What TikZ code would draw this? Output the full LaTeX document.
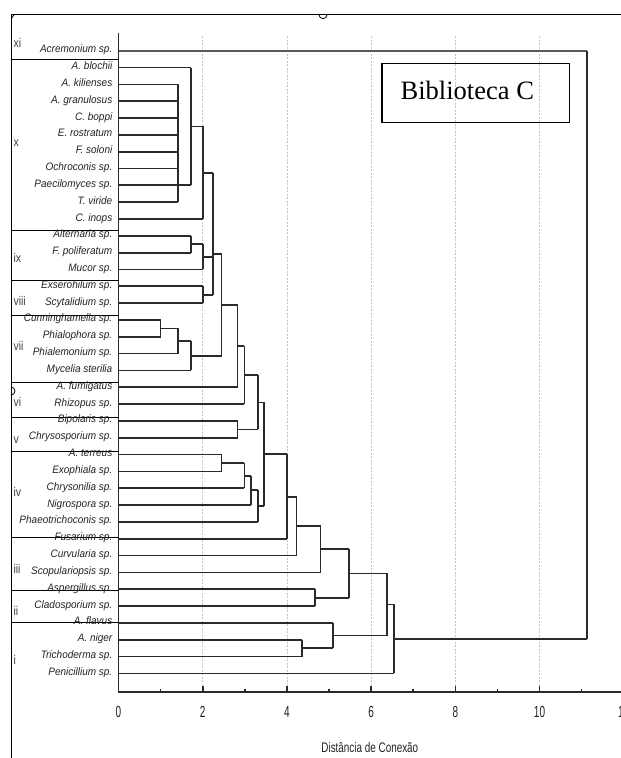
\documentclass[tikz,border=0pt]{standalone}
\usepackage{fontspec}
\setmainfont{Liberation Serif}
\setsansfont{Liberation Sans}
\definecolor{treeline}{HTML}{2A2A2A}
\definecolor{gridgray}{HTML}{C4C4C4}
\definecolor{labelink}{HTML}{222222}
\tikzset{
  tree/.style={draw=treeline, line width=1.7pt},
  topleaf/.style={draw=black!65, line width=2.2pt},
  sepline/.style={black, line width=1pt},
  gridline/.style={gridgray, dashed, dash pattern=on 2pt off 1.5pt, line width=.8pt},
  axisline/.style={treeline, line width=1.6pt},
  leafname/.style={font=\sffamily\itshape\fontsize{10}{12}\selectfont, text=labelink,
    anchor=base east, inner sep=0pt, xshift=-6pt, yshift=-2pt, yscale=1.08, transform shape},
  grouplbl/.style={font=\sffamily\fontsize{10.5}{12}\selectfont, text=black!75,
    anchor=west, inner sep=0pt, yscale=1.2, transform shape},
  ticklbl/.style={font=\sffamily\fontsize{10}{12}\selectfont, text=labelink,
    anchor=base, inner sep=0pt, yscale=1.6, transform shape},
  axistitle/.style={font=\sffamily\fontsize{9.9}{12}\selectfont, text=labelink,
    anchor=base, inner sep=0pt, yscale=1.4, transform shape},
}
\begin{document}
\begin{tikzpicture}[x=1pt,y=-1pt]
  \useasboundingbox (0,0) rectangle (621,758);
  % frame and handles
  \draw[line width=1pt] (11,758) -- (11,14.7) -- (621,14.7);
  \draw[line width=.8pt] (319,14.7) arc (180:0:4);
  \draw[line width=.8pt] (11,387) arc (-90:90:4);
  \draw[line width=.8pt] (11,19) -- (14,14.7);

  % grid, axis, ticks
  \begin{scope}[shift={(118.5,0)}, x=42.1pt]
    \foreach \t in {2,4,...,12}
      \draw[gridline] (\t,36) -- (\t,691.7);
    \draw[axisline] (0,33) -- (0,691.7) -- (12.2,691.7);
    \foreach \t in {1,3,...,11}
      \draw[axisline] (\t,691.7) -- (\t,688.8);
    \foreach \t in {2,4,...,12}
      \draw[axisline] (\t,691.7) -- (\t,685.8);
    \foreach \t in {0,2,...,12}
      \node[ticklbl] (tick\t) at (\t,717) {\t};
    \node[axistitle] (xtitle) at (5.97,752) {Distância de Conexão};
  \end{scope}

  % group column
  \foreach \y in {59.3,230,280.7,315.3,382.3,417.3,451.7,537.3,590,622.7}
    \draw[sepline] (11,\y) -- (118.5,\y);
  \node[grouplbl] (gxi)   at (13.3,42.7)  {xi};
  \node[grouplbl] (gx)    at (13.3,143)   {x};
  \node[grouplbl] (gix)   at (13.3,258)   {ix};
  \node[grouplbl] (gviii) at (13.3,300.7) {viii};
  \node[grouplbl] (gvii)  at (13.3,346)   {vii};
  \node[grouplbl] (gvi)   at (13.3,401.7) {vi};
  \node[grouplbl] (gv)    at (13.3,440)   {v};
  \node[grouplbl] (giv)   at (13.3,491.7) {iv};
  \node[grouplbl] (giii)  at (13.3,569)   {iii};
  \node[grouplbl] (gii)   at (13.3,611)   {ii};
  \node[grouplbl] (gi)    at (13.3,660)   {i};

  % dendrogram
  \begin{scope}[shift={(118.5,50.7)}, x=42.1pt, y=-16.83pt]
    \draw[topleaf] (0,0) -- (11.12,0);
    \node[leafname] (leaf0) at (0,0) {Acremonium sp.};
    \foreach \name/\d [count=\i] in {A. blochii/1.72, A. kilienses/1.41,
        A. granulosus/1.41, C. boppi/1.41, E. rostratum/1.41, F. soloni/1.41,
        Ochroconis sp./1.41, Paecilomyces sp./1.72, T. viride/1.41,
        C. inops/2.00, Alternaria sp./1.72, F. poliferatum/1.72, Mucor sp./2.00,
        Exserohilum sp./2.00, Scytalidium sp./2.00, Cunninghamella sp./1.00,
        Phialophora sp./1.00, Phialemonium sp./1.41, Mycelia sterilia/1.72,
        A. fumigatus/2.83, Rhizopus sp./2.99, Bipolaris sp./2.83,
        Chrysosporium sp./2.83, A. terreus/2.45, Exophiala sp./2.45,
        Chrysonilia sp./2.99, Nigrospora sp./3.15, Phaeotrichoconis sp./3.31,
        Fusarium sp./4.01, Curvularia sp./4.23, Scopulariopsis sp./4.80,
        Aspergillus sp./4.67, Cladosporium sp./4.67, A. flavus/5.09,
        A. niger/4.36, Trichoderma sp./4.36, Penicillium sp./6.54}
    {
      \draw[tree] (0,\i) -- (\d,\i);
      \node[leafname] (leaf\i) at (0,\i) {\name};
    }
    % x
    \draw[tree] (1.41,2) -- (1.41,9);
    \draw[tree] (1.72,1) -- (1.72,8) (1.72,4.5) -- (2.00,4.5);
    \draw[tree] (2.00,4.5) -- (2.00,10) (2.00,7.25) -- (2.24,7.25);
    % ix and viii
    \draw[tree] (1.72,11) -- (1.72,12) (1.72,11.5) -- (2.00,11.5);
    \draw[tree] (2.00,11.5) -- (2.00,13) (2.00,12.25) -- (2.24,12.25);
    \draw[tree] (2.00,14) -- (2.00,15) (2.00,14.5) -- (2.24,14.5);
    \draw[tree] (2.24,7.25) -- (2.24,14.5) (2.24,12.08) -- (2.45,12.08);
    % vii
    \draw[tree] (1.00,16) -- (1.00,17) (1.00,16.5) -- (1.41,16.5);
    \draw[tree] (1.41,16.5) -- (1.41,18) (1.41,17.25) -- (1.72,17.25);
    \draw[tree] (1.72,17.25) -- (1.72,19) (1.72,18.12) -- (2.45,18.12);
    \draw[tree] (2.45,12.08) -- (2.45,18.12) (2.45,15.11) -- (2.83,15.11);
    % vi and v
    \draw[tree] (2.83,15.11) -- (2.83,20) (2.83,17.55) -- (2.99,17.55);
    \draw[tree] (2.99,17.55) -- (2.99,21) (2.99,19.28) -- (3.31,19.28);
    \draw[tree] (2.83,22) -- (2.83,23) (2.83,22.5) -- (3.31,22.5);
    \draw[tree] (3.31,19.28) -- (3.31,22.5) (3.31,20.9) -- (3.46,20.9);
    % iv
    \draw[tree] (2.45,24) -- (2.45,25) (2.45,24.5) -- (2.99,24.5);
    \draw[tree] (2.99,24.5) -- (2.99,26) (2.99,25.25) -- (3.15,25.25);
    \draw[tree] (3.15,25.25) -- (3.15,27) (3.15,26.1) -- (3.31,26.1);
    \draw[tree] (3.31,26.1) -- (3.31,28) (3.31,27.05) -- (3.46,27.05);
    \draw[tree] (3.46,20.9) -- (3.46,27.05) (3.46,23.98) -- (4.01,23.98);
    % iii
    \draw[tree] (4.01,23.98) -- (4.01,29) (4.01,26.5) -- (4.23,26.5);
    \draw[tree] (4.23,26.5) -- (4.23,30) (4.23,28.25) -- (4.80,28.25);
    \draw[tree] (4.80,28.25) -- (4.80,31) (4.80,29.6) -- (5.47,29.6);
    % ii
    \draw[tree] (4.67,32) -- (4.67,33) (4.67,32.5) -- (5.47,32.5);
    \draw[tree] (5.47,29.6) -- (5.47,32.5) (5.47,31.06) -- (6.38,31.06);
    % i
    \draw[tree] (4.36,35) -- (4.36,36) (4.36,35.5) -- (5.09,35.5);
    \draw[tree] (5.09,34) -- (5.09,35.5) (5.09,34.75) -- (6.38,34.75);
    \draw[tree] (6.38,31.06) -- (6.38,34.75) (6.38,32.9) -- (6.54,32.9);
    \draw[tree] (6.54,32.9) -- (6.54,37) (6.54,34.95) -- (11.12,34.95);
    \draw[tree] (11.12,0) -- (11.12,34.95);
  \end{scope}

  % legend box
  \draw[line width=1.4pt] (382,63.3) rectangle (569.3,122.3);
  \node[font=\fontsize{26.5}{30}\selectfont, anchor=base, inner sep=0pt] (biblabel)
    at (467.3,99.3) {Biblioteca C};
\end{tikzpicture}
\end{document}
